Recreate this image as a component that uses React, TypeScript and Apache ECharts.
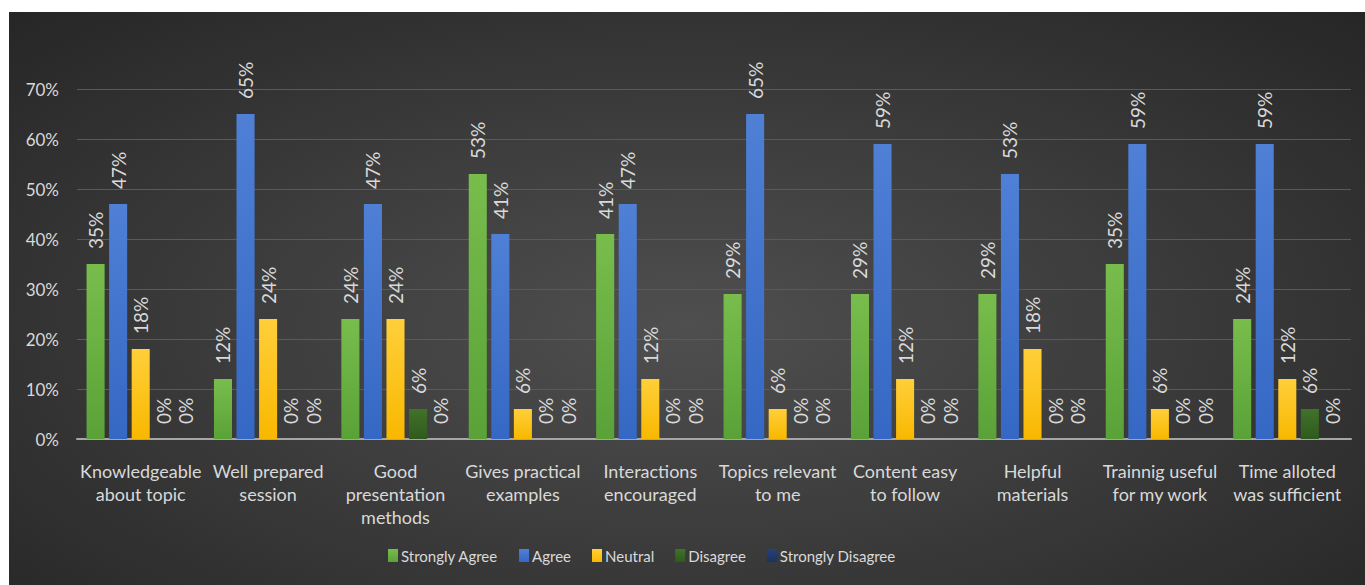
import React, { useEffect, useRef } from "react";
import * as echarts from "echarts";

// Survey statements (category axis)
const categories = [
  "Knowledgeable\nabout topic",
  "Well prepared\nsession",
  "Good\npresentation\nmethods",
  "Gives practical\nexamples",
  "Interactions\nencouraged",
  "Topics relevant\nto me",
  "Content easy\nto follow",
  "Helpful\nmaterials",
  "Trainnig useful\nfor my work",
  "Time alloted\nwas sufficient",
];

// Share of responses per answer, in percent
const stronglyAgree = [35, 12, 24, 53, 41, 29, 29, 29, 35, 24];
const agree = [47, 65, 47, 41, 47, 65, 59, 53, 59, 59];
const neutral = [18, 24, 24, 6, 12, 6, 12, 18, 6, 12];
const disagree = [0, 0, 6, 0, 0, 0, 0, 0, 0, 6];
const stronglyDisagree = [0, 0, 0, 0, 0, 0, 0, 0, 0, 0];

const FONT = "Lato, 'Noto Sans', sans-serif";
const TEXT = "#d9d9d9";

const grad = (top: string, bottom: string) =>
  new echarts.graphic.LinearGradient(0, 0, 0, 1, [
    { offset: 0, color: top },
    { offset: 1, color: bottom },
  ]);

export default function App() {
  const ref = useRef<HTMLDivElement>(null);

  useEffect(() => {
    if (!ref.current) return;
    const chart = echarts.init(ref.current, undefined, { renderer: "svg" });

    const mkSeries = (name: string, data: number[], top: string, bottom: string) => ({
      name,
      type: "bar",
      data,
      barGap: "25%",
      barCategoryGap: "15%",
      itemStyle: { color: grad(top, bottom) },
      label: {
        show: true,
        position: "top",
        rotate: 90,
        align: "left",
        verticalAlign: "middle",
        distance: 15,
        formatter: "{c}%",
        color: TEXT,
        fontFamily: FONT,
        fontSize: 19,
      },
    });

    chart.setOption({
      animation: false,
      textStyle: { fontFamily: FONT },
      grid: { left: 68, right: 14, top: 77, bottom: 146 },
      legend: {
        left: 374,
        top: 531,
        itemWidth: 10,
        itemHeight: 13,
        itemGap: 21,
        icon: "rect",
        textStyle: { color: TEXT, fontFamily: FONT, fontSize: 15, padding: [0, 0, 0, -2] },
        data: ["Strongly Agree", "Agree", "Neutral", "Disagree", "Strongly Disagree"],
      },
      xAxis: {
        type: "category",
        data: categories,
        axisLine: { lineStyle: { color: "#a6a6a6", width: 2 } },
        axisTick: { show: false },
        axisLabel: {
          interval: 0,
          color: TEXT,
          fontFamily: FONT,
          fontSize: 18,
          lineHeight: 23,
          margin: 20,
        },
      },
      yAxis: {
        type: "value",
        min: 0,
        max: 70,
        interval: 10,
        axisLine: { show: false },
        axisTick: { show: false },
        splitLine: { lineStyle: { color: "#5a5a5a", width: 1 } },
        axisLabel: {
          formatter: "{value}%",
          color: TEXT,
          fontFamily: FONT,
          fontSize: 17,
          margin: 18,
        },
      },
      series: [
        mkSeries("Strongly Agree", stronglyAgree, "#78bd4c", "#5aa238"),
        mkSeries("Agree", agree, "#4f80d6", "#3568c4"),
        mkSeries("Neutral", neutral, "#ffcf3a", "#f8b800"),
        mkSeries("Disagree", disagree, "#41722a", "#2f5a1d"),
        mkSeries("Strongly Disagree", stronglyDisagree, "#25427a", "#1c325e"),
      ],
    });

    return () => chart.dispose();
  }, []);

  return (
    <div
      ref={ref}
      style={{
        position: "absolute",
        left: 9,
        top: 12,
        width: 1356,
        height: 573,
        background:
          "radial-gradient(ellipse at 50% 55%, #4f4f4f 0%, #3d3d3d 45%, #262626 100%)",
      }}
    />
  );
}
